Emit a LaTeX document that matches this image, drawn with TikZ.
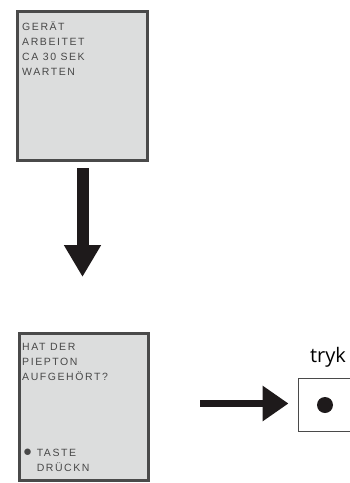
\documentclass[tikz,border=0pt]{standalone}
\usepackage{fontspec}
\setmainfont{Liberation Sans}
\newfontfamily\lcdfont[LetterSpace=15]{Liberation Sans}
\newfontfamily\labelfont{Open Sans}
\usetikzlibrary{arrows.meta,positioning}
\definecolor{lcdgray}{HTML}{DCDDDD}
\definecolor{lcdframe}{HTML}{4A4A4A}
\definecolor{lcdtext}{HTML}{484848}
\definecolor{inkdark}{HTML}{1E1A1B}
\tikzset{
  screen/.style={
    rectangle,
    draw=lcdframe,
    line width=3pt,
    fill=lcdgray,
    inner sep=0pt
  },
  screentext/.style={
    anchor=north west,
    inner sep=0pt,
    align=left,
    text=lcdtext,
    font=\lcdfont\fontsize{10.5}{15}\selectfont
  },
  keybox/.style={
    rectangle,
    draw=lcdframe,
    line width=1.2pt,
    fill=white,
    inner sep=0pt
  },
  fatline/.style={-{Triangle[length=32pt,width=35pt]},line width=12pt,draw=inkdark},
  pushline/.style={-{Triangle[length=26pt,width=34pt]},line width=7pt,draw=inkdark}
}
\begin{document}
\begin{tikzpicture}[x=1pt,y=-1pt]
  \useasboundingbox (0,0) rectangle (349,483);
  \node[screen, minimum width=130pt, minimum height=149pt] (work) at (82.5,86) {};
  \node[screentext] (worktext) at (22,21.5) {GERÄT\\ARBEITET\\CA 30 SEK\\WARTEN};
  \node[screen, minimum width=129pt, minimum height=147pt] (check) at (84,407) {};
  \node[screentext] (checktext) at (22,343) {HAT DER\\PIEPTON\\AUFGEHÖRT?};
  \node[screentext] (tastetext) at (23,448.5) {{\fontsize{15}{15}\selectfont●} TASTE\\\hphantom{{\fontsize{15}{15}\selectfont●} }DRÜCKN};
  \node[keybox, minimum width=70pt, minimum height=53pt] (key) at (333.6,405) {};
  \node[circle, fill=inkdark, minimum size=16pt, inner sep=0pt] (keydot) at (325,405) {};
  \node[anchor=base, inner sep=0pt, font=\labelfont\fontsize{20}{24}\selectfont] (tryk) at (328,362) {tryk};
  \coordinate (pushfrom) at (200,403.5);
  \draw[fatline, shorten <=6pt, shorten >=55pt] (work.south) -- (work.south |- check.north);
  \draw[pushline, shorten >=9.5pt] (pushfrom) -- (pushfrom -| key.west);
\end{tikzpicture}
\end{document}
